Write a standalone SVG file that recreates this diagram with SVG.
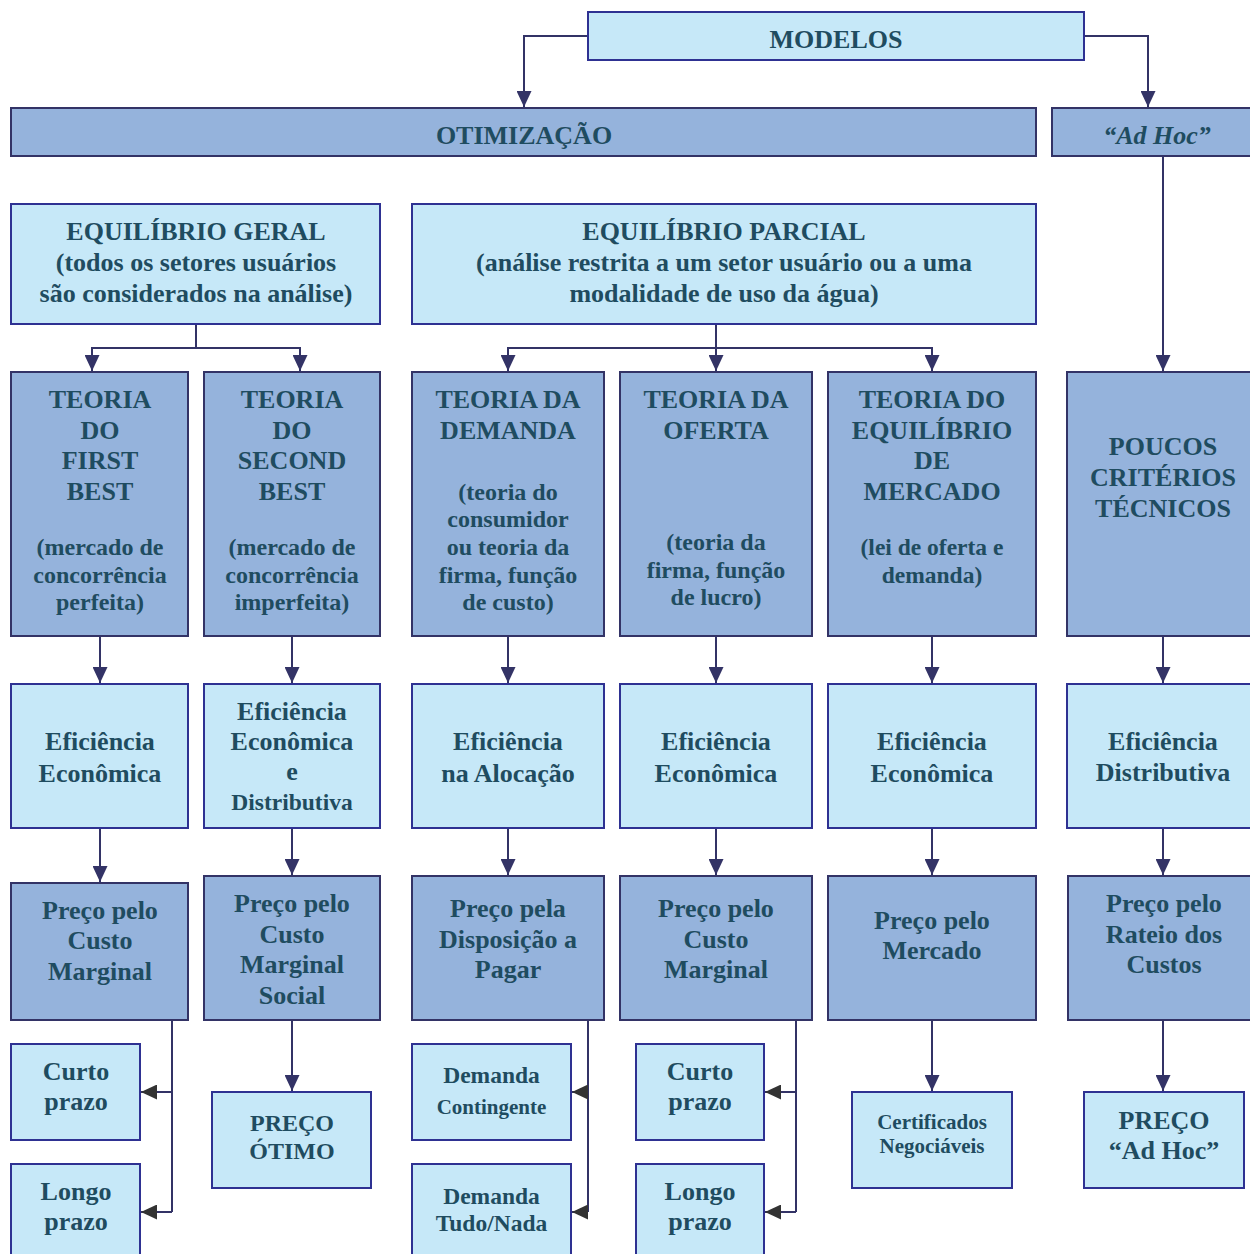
<svg xmlns="http://www.w3.org/2000/svg" width="1250" height="1254" viewBox="0 0 1250 1254">
<defs>
<style>
.lt{fill:#C6E8F8;stroke:#2E3192;stroke-width:2}
.dk{fill:#95B3DC;stroke:#333366;stroke-width:2}
text{font-family:"Liberation Serif","Times New Roman",serif;font-weight:bold;fill:#1F4C60;text-anchor:middle;font-size:26px}
.s24{font-size:24px}
.s23{font-size:23.5px}
.s21{font-size:21px}
.it{font-style:italic}
.cn{fill:none;stroke:#333366;stroke-width:2}
.cg{fill:none;stroke:#333366;stroke-width:2}
</style>
<marker id="ad" markerUnits="userSpaceOnUse" markerWidth="16" markerHeight="15" refX="16" refY="7.5" orient="auto">
<path d="M0,0 L16,7.5 L0,15 z" fill="#333366"/>
</marker>
<marker id="ag" markerUnits="userSpaceOnUse" markerWidth="16" markerHeight="15" refX="16" refY="7.5" orient="auto">
<path d="M0,0 L16,7.5 L0,15 z" fill="#333333"/>
</marker>
</defs>
<rect width="1250" height="1254" fill="#FFFFFF"/>

<g id="connectors">
<path class="cn" d="M588,36 H524 V107" marker-end="url(#ad)"/>
<path class="cn" d="M1084,36 H1148 V107" marker-end="url(#ad)"/>
<path class="cn" d="M1163,156 V371" marker-end="url(#ad)"/>
<path class="cn" d="M196,324 V348"/>
<path class="cn" d="M196,348 H92 V371" marker-end="url(#ad)"/>
<path class="cn" d="M196,348 H300 V371" marker-end="url(#ad)"/>
<path class="cn" d="M716,324 V371" marker-end="url(#ad)"/>
<path class="cn" d="M716,348 H508 V371" marker-end="url(#ad)"/>
<path class="cn" d="M716,348 H932 V371" marker-end="url(#ad)"/>
<path class="cn" d="M100,636 V683" marker-end="url(#ad)"/>
<path class="cn" d="M292,636 V683" marker-end="url(#ad)"/>
<path class="cn" d="M508,636 V683" marker-end="url(#ad)"/>
<path class="cn" d="M716,636 V683" marker-end="url(#ad)"/>
<path class="cn" d="M932,636 V683" marker-end="url(#ad)"/>
<path class="cn" d="M1163,636 V683" marker-end="url(#ad)"/>
<path class="cn" d="M100,828 V882" marker-end="url(#ad)"/>
<path class="cn" d="M292,828 V875" marker-end="url(#ad)"/>
<path class="cn" d="M508,828 V875" marker-end="url(#ad)"/>
<path class="cn" d="M716,828 V875" marker-end="url(#ad)"/>
<path class="cn" d="M932,828 V875" marker-end="url(#ad)"/>
<path class="cn" d="M1163,828 V875" marker-end="url(#ad)"/>
<path class="cn" d="M292,1020 V1091" marker-end="url(#ad)"/>
<path class="cn" d="M932,1020 V1091" marker-end="url(#ad)"/>
<path class="cn" d="M1163,1020 V1091" marker-end="url(#ad)"/>
<path class="cn" d="M172,1020 V1212"/>
<path class="cg" d="M172,1092 H141" marker-end="url(#ag)"/>
<path class="cg" d="M172,1212 H141" marker-end="url(#ag)"/>
<path class="cn" d="M588,1020 V1212"/>
<path class="cg" d="M588,1092 H572" marker-end="url(#ag)"/>
<path class="cg" d="M588,1212 H572" marker-end="url(#ag)"/>
<path class="cn" d="M796,1020 V1212"/>
<path class="cg" d="M796,1092 H765" marker-end="url(#ag)"/>
<path class="cg" d="M796,1212 H765" marker-end="url(#ag)"/>
</g>

<g id="modelos"><rect class="lt" x="588" y="12" width="496" height="48"/><text x="836" y="48">MODELOS</text></g>
<g id="otimizacao"><rect class="dk" x="11" y="108" width="1025" height="48"/><text x="524" y="144">OTIMIZAÇÃO</text></g>
<g id="adhoc"><rect class="dk" x="1052" y="108" width="200" height="48"/><text class="it" x="1157" y="144">“Ad Hoc”</text></g>

<g id="eq-geral"><rect class="lt" x="11" y="204" width="369" height="120"/>
<text x="196" y="240">EQUILÍBRIO GERAL</text>
<text x="196" y="271">(todos os setores usuários</text>
<text x="196" y="302">são considerados na análise)</text></g>
<g id="eq-parcial"><rect class="lt" x="412" y="204" width="624" height="120"/>
<text x="724" y="240">EQUILÍBRIO PARCIAL</text>
<text x="724" y="271">(análise restrita a um setor usuário ou a uma</text>
<text x="724" y="302">modalidade de uso da água)</text></g>

<g id="first-best"><rect class="dk" x="11" y="372" width="177" height="264"/>
<text x="100" y="408">TEORIA</text><text x="100" y="438.5">DO</text><text x="100" y="469">FIRST</text><text x="100" y="499.5">BEST</text>
<text class="s24" x="100" y="555">(mercado de</text><text class="s24" x="100" y="582.5">concorrência</text><text class="s24" x="100" y="610">perfeita)</text></g>
<g id="second-best"><rect class="dk" x="204" y="372" width="176" height="264"/>
<text x="292" y="408">TEORIA</text><text x="292" y="438.5">DO</text><text x="292" y="469">SECOND</text><text x="292" y="499.5">BEST</text>
<text class="s24" x="292" y="555">(mercado de</text><text class="s24" x="292" y="582.5">concorrência</text><text class="s24" x="292" y="610">imperfeita)</text></g>
<g id="teoria-demanda"><rect class="dk" x="412" y="372" width="192" height="264"/>
<text x="508" y="408">TEORIA DA</text><text x="508" y="438.5">DEMANDA</text>
<text class="s24" x="508" y="499.5">(teoria do</text><text class="s24" x="508" y="527">consumidor</text><text class="s24" x="508" y="555">ou teoria da</text><text class="s24" x="508" y="582.5">firma, função</text><text class="s24" x="508" y="610">de custo)</text></g>
<g id="teoria-oferta"><rect class="dk" x="620" y="372" width="192" height="264"/>
<text x="716" y="408">TEORIA DA</text><text x="716" y="438.5">OFERTA</text>
<text class="s24" x="716" y="550">(teoria da</text><text class="s24" x="716" y="577.5">firma, função</text><text class="s24" x="716" y="605">de lucro)</text></g>
<g id="teoria-mercado"><rect class="dk" x="828" y="372" width="208" height="264"/>
<text x="932" y="408">TEORIA DO</text><text x="932" y="438.5">EQUILÍBRIO</text><text x="932" y="469">DE</text><text x="932" y="499.5">MERCADO</text>
<text class="s23" x="932" y="555">(lei de oferta e</text><text class="s23" x="932" y="583">demanda)</text></g>
<g id="poucos"><rect class="dk" x="1067" y="372" width="185" height="264"/>
<text x="1163" y="455">POUCOS</text><text x="1163" y="486">CRITÉRIOS</text><text x="1163" y="517">TÉCNICOS</text></g>

<g id="ef1"><rect class="lt" x="11" y="684" width="177" height="144"/><text x="100" y="749.5">Eficiência</text><text x="100" y="781.5">Econômica</text></g>
<g id="ef2"><rect class="lt" x="204" y="684" width="176" height="144"/><text x="292" y="720">Eficiência</text><text x="292" y="749.5">Econômica</text><text x="292" y="780">e</text><text class="s23" x="292" y="810">Distributiva</text></g>
<g id="ef3"><rect class="lt" x="412" y="684" width="192" height="144"/><text x="508" y="749.5">Eficiência</text><text x="508" y="781.5">na Alocação</text></g>
<g id="ef4"><rect class="lt" x="620" y="684" width="192" height="144"/><text x="716" y="749.5">Eficiência</text><text x="716" y="781.5">Econômica</text></g>
<g id="ef5"><rect class="lt" x="828" y="684" width="208" height="144"/><text x="932" y="749.5">Eficiência</text><text x="932" y="781.5">Econômica</text></g>
<g id="ef6"><rect class="lt" x="1067" y="684" width="185" height="144"/><text x="1163" y="749.5">Eficiência</text><text x="1163" y="781">Distributiva</text></g>

<g id="p1"><rect class="dk" x="11" y="883" width="177" height="137"/><text x="100" y="918.5">Preço pelo</text><text x="100" y="948.5">Custo</text><text x="100" y="979.5">Marginal</text></g>
<g id="p2"><rect class="dk" x="204" y="876" width="176" height="144"/><text x="292" y="912">Preço pelo</text><text x="292" y="942.5">Custo</text><text x="292" y="973">Marginal</text><text x="292" y="1003.5">Social</text></g>
<g id="p3"><rect class="dk" x="412" y="876" width="192" height="144"/><text x="508" y="917">Preço pela</text><text x="508" y="947.5">Disposição a</text><text x="508" y="977.5">Pagar</text></g>
<g id="p4"><rect class="dk" x="620" y="876" width="192" height="144"/><text x="716" y="917">Preço pelo</text><text x="716" y="947.5">Custo</text><text x="716" y="977.5">Marginal</text></g>
<g id="p5"><rect class="dk" x="828" y="876" width="208" height="144"/><text x="932" y="928.5">Preço pelo</text><text x="932" y="958.5">Mercado</text></g>
<g id="p6"><rect class="dk" x="1068" y="876" width="184" height="144"/><text x="1164" y="912">Preço pelo</text><text x="1164" y="942.5">Rateio dos</text><text x="1164" y="973">Custos</text></g>

<g id="curto1"><rect class="lt" x="11" y="1044" width="129" height="96"/><text x="76" y="1080">Curto</text><text x="76" y="1110">prazo</text></g>
<g id="longo1"><rect class="lt" x="11" y="1164" width="129" height="94"/><text x="76" y="1200">Longo</text><text x="76" y="1230">prazo</text></g>
<g id="otimo"><rect class="lt" x="212" y="1092" width="159" height="96"/><text class="s24" x="292" y="1131">PREÇO</text><text class="s24" x="292" y="1158.5">ÓTIMO</text></g>
<g id="dem-cont"><rect class="lt" x="412" y="1044" width="159" height="96"/><text class="s23" x="491.5" y="1083">Demanda</text><text class="s21" x="491.5" y="1113.5">Contingente</text></g>
<g id="dem-tudo"><rect class="lt" x="412" y="1164" width="159" height="94"/><text class="s23" x="491.5" y="1203.5">Demanda</text><text class="s23" x="491.5" y="1231">Tudo/Nada</text></g>
<g id="curto2"><rect class="lt" x="636" y="1044" width="128" height="96"/><text x="700" y="1080">Curto</text><text x="700" y="1110">prazo</text></g>
<g id="longo2"><rect class="lt" x="636" y="1164" width="128" height="94"/><text x="700" y="1200">Longo</text><text x="700" y="1230">prazo</text></g>
<g id="certificados"><rect class="lt" x="852" y="1092" width="160" height="96"/><text class="s21" x="932" y="1128.5">Certificados</text><text class="s21" x="932" y="1153">Negociáveis</text></g>
<g id="preco-adhoc"><rect class="lt" x="1084" y="1092" width="160" height="96"/><text x="1164" y="1128.5">PREÇO</text><text x="1164" y="1158.5">“Ad Hoc”</text></g>
</svg>
